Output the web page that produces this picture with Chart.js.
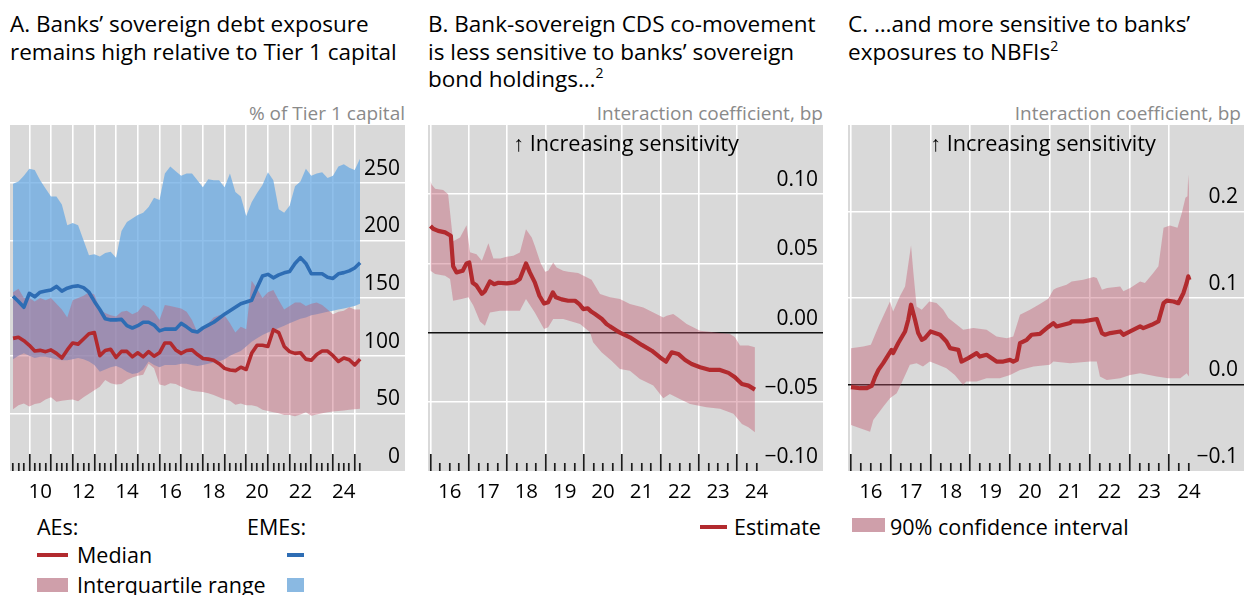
<!DOCTYPE html>
<html>
<head>
<meta charset="utf-8">
<script src="https://cdn.jsdelivr.net/npm/chart.js@4.4.1/dist/chart.umd.min.js"></script>
<style>
  html, body { margin: 0; padding: 0; background: #fff; }
  body { width: 1244px; height: 595px; position: relative; overflow: hidden;
         font-family: "Open Sans", "Noto Sans", sans-serif; color: #000; }
  .title { position: absolute; font-size: 22.5px; line-height: 27.5px; white-space: nowrap; }
  .title sup { font-size: 14px; vertical-align: 9px; line-height: 0; }
  .unit { position: absolute; font-size: 19px; color: #8a8a8a; white-space: nowrap; text-align: right; }
  .note { position: absolute; font-size: 21.7px; white-space: nowrap; transform: translateX(-50%); }
  .panel { position: absolute; top: 125px; height: 386px; }
  .panel canvas { display: block; }
  .leg { position: absolute; font-size: 21.5px; line-height: 24px; white-space: nowrap; }
  .sw { position: absolute; }
</style>
</head>
<body>

<div class="title" style="left:10px; top:10px;">A. Banks’ sovereign debt exposure<br>remains high relative to Tier 1 capital</div>
<div class="title" style="left:428px; top:10px;">B. Bank-sovereign CDS co-movement<br>is less sensitive to banks’ sovereign<br>bond holdings…<sup>2</sup></div>
<div class="title" style="left:848px; top:10px;">C. …and more sensitive to banks’<br>exposures to NBFIs<sup>2</sup></div>

<div class="unit" style="right:839px; top:100px;">% of Tier 1 capital</div>
<div class="unit" style="right:421px; top:100px;">Interaction coefficient, bp</div>
<div class="unit" style="right:3px; top:100px;">Interaction coefficient, bp</div>

<div class="panel" style="left:10px; width:395px;"><canvas id="chartA"></canvas></div>
<div class="panel" style="left:428px; width:395px;"><canvas id="chartB"></canvas></div>
<div class="panel" style="left:848px; width:396px;"><canvas id="chartC"></canvas></div>

<div class="note" style="left:626px; top:128px;">↑ Increasing sensitivity</div>
<div class="note" style="left:1043px; top:128px;">↑ Increasing sensitivity</div>

<!-- legend, panel A -->
<div class="leg" style="left:37px; top:515px;">AEs:</div>
<div class="leg" style="left:247px; top:515px;">EMEs:</div>
<div class="sw" style="left:37px; top:553px; width:31px; height:4px; background:#b22a2e;"></div>
<div class="leg" style="left:77px; top:543px;">Median</div>
<div class="sw" style="left:287px; top:553px; width:17px; height:4px; background:#2e6db4;"></div>
<div class="sw" style="left:37px; top:578px; width:31px; height:14px; background:#cf9faa;"></div>
<div class="leg" style="left:77px; top:573px;">Interquartile range</div>
<div class="sw" style="left:287px; top:578px; width:17px; height:14px; background:#8ab9e2;"></div>

<!-- legend, panels B and C -->
<div class="sw" style="left:700px; top:525px; width:27px; height:4px; background:#b22a2e;"></div>
<div class="leg" style="left:734px; top:515px;">Estimate</div>
<div class="sw" style="left:852px; top:518px; width:33px; height:14px; background:#cf9faa;"></div>
<div class="leg" style="left:890px; top:515px;">90% confidence interval</div>

<script>
// ---------- Panel A: sovereign debt exposure, % of Tier 1 capital (quarterly, from 2009 Q1) ----------
const aFirstQuarter = 2009.25;
const aeMedian = [115,116,113,109,104,104.6,103.5,105,102,98,105,111,110,114.5,119,120,100,104.5,105.5,98.5,
  103.7,103.7,99,102.5,99,103.5,99.5,102.5,111,111,105,102,104.5,105,101,97.5,97,96,93,89,
  87.5,87,90,88,102,109,109,108,122.5,120,108,103.5,102,102.5,97,96,101,104,104,100,
  95,98,96.5,92,97];
const aeLower = [53.5,57,58.5,56,58,59,62,64,60,61,61.5,62,60.5,64,67,70,73,79,76,75,
  75.5,79,81,82.5,83.5,93,89,75,74,76,75.5,73,71,69.5,69,68.5,67.5,66,64,62,
  61,57.5,58.5,57,57,56,53,52,51,50,48.5,48.5,47.5,49,51,48,49,50,51,51.5,
  52,52.5,53,53.5,54];
const aeUpper = [155,158,150,150,147,150,148,150,145,140,133,148,150,152,155,153,140,137,135,134,
  138,139,136,138,144,142,138,131,144,143,142,141,138,131,120,124,128,133,135,135,
  128,120,125,123,165,158,150,155,157,148,140,143,146,146,143,145,146,144,140,136,
  138,139,142,140,140];
const emeMedian = [151.5,147,142,154,151,155,156,157,160,156,158.5,160,160.5,159,155,147,140,132,131,131,
  131.5,126,124,126,129,129,126.5,121.5,123,123,123,128,125,121.5,120.5,124,126.5,129,132.5,136,
  139,142,145,146.5,148,159,169,170.5,167.5,170,171.8,173,180,185,180,171,171,171,168,167,
  171,172,173.5,176,180.5];
const emeLower = [97,100,102,100,98,99,99,98,97,96,96,97,98,97,95,92,86,88,90,91,
  89,86,84,85,88,95,92,90,92,92,92,93,93,92,91,92,93,94,95,97,
  100,102,104,108,112,115,118,120,122,124,126,128,130,132,133,135,136,137,138,139,
  140,141,142,143,145];
const emeUpper = [249,251,256,262,261,252,245,238,238,231,213,215,213,200,187,188,186,189,190,185,
  208,216,219,222,224,229,237,235,258,264,260,256,258,258,252,246,253,252,252,246,
  258,242,238,221,233,241,248,259,252,227,224,230,247,251,262,256,258,259,254,256,
  264,266,263,261,271];

// ---------- Panel B: interaction coefficient with sovereign bond holdings, bp ----------
const bEstDates = [2016.0,2016.07,2016.2,2016.38,2016.53,2016.59,2016.68,2016.84,2016.94,2017.01,
  2017.1,2017.2,2017.34,2017.42,2017.55,2017.66,2017.77,2017.99,2018.2,2018.33,
  2018.49,2018.59,2018.72,2018.84,2018.96,2019.07,2019.19,2019.27,2019.42,2019.59,
  2019.77,2019.88,2019.98,2020.1,2020.2,2020.29,2020.47,2020.59,2020.68,2020.86,
  2020.94,2021.2,2021.51,2021.77,2021.98,2022.14,2022.29,2022.46,2022.64,2022.81,
  2023.03,2023.29,2023.55,2023.77,2023.94,2024.12,2024.29,2024.46];
const bEstimate = [0.077,0.075,0.0735,0.0724,0.070,0.048,0.0435,0.0447,0.050,0.0507,
  0.036,0.034,0.028,0.030,0.037,0.035,0.036,0.0356,0.0363,0.0387,
  0.050,0.0435,0.0363,0.0266,0.021,0.022,0.029,0.0255,0.024,0.023,
  0.023,0.0206,0.017,0.0175,0.015,0.0134,0.0098,0.0062,0.0045,0.0014,
  0.0,-0.0034,-0.0089,-0.0131,-0.0178,-0.021,-0.0142,-0.0154,-0.0198,-0.0227,
  -0.025,-0.027,-0.027,-0.0291,-0.0323,-0.0371,-0.0383,-0.0412];
const bUpperDates = [2016.0,2016.03,2016.12,2016.33,2016.46,2016.59,2016.77,2016.94,2017.03,2017.2,
  2017.34,2017.51,2017.64,2017.82,2017.99,2018.16,2018.33,2018.49,2018.64,2018.72,
  2018.87,2018.99,2019.07,2019.2,2019.29,2019.46,2019.59,2019.85,2020.07,2020.2,
  2020.42,2020.68,2020.94,2021.2,2021.55,2021.81,2022.07,2022.16,2022.33,2022.46,
  2022.68,2023.03,2023.38,2023.81,2023.94,2024.07,2024.29,2024.46];
const bUpper = [0.1096,0.107,0.104,0.103,0.100,0.066,0.0688,0.0776,0.058,0.0567,
  0.0519,0.0646,0.0536,0.0536,0.0548,0.0555,0.0579,0.0747,0.0688,0.0627,
  0.0502,0.0439,0.0447,0.0507,0.0471,0.0447,0.0439,0.043,0.040,0.0382,
  0.0278,0.0255,0.0242,0.0206,0.0182,0.0146,0.011,0.0122,0.0134,0.011,
  0.0062,0.0014,0.0002,-0.001,-0.0034,-0.0094,-0.0094,-0.0106];
const bLowerDates = [2016.0,2016.12,2016.38,2016.51,2016.59,2016.81,2016.99,2017.12,2017.29,2017.42,
  2017.55,2017.81,2018.33,2018.49,2018.72,2018.96,2019.07,2019.2,2019.46,2019.9,
  2020.16,2020.24,2020.46,2020.72,2020.94,2021.2,2021.46,2021.81,2022.07,2022.24,
  2022.5,2022.77,2023.2,2023.55,2023.9,2024.12,2024.29,2024.46];
const bLower = [0.0447,0.0423,0.041,0.0387,0.023,0.0242,0.0255,0.0194,0.008,0.005,
  0.0146,0.0158,0.0158,0.0242,0.0146,0.0026,0.0038,0.0098,0.0098,0.0062,
  0.0002,-0.007,-0.0142,-0.0203,-0.0263,-0.0275,-0.0335,-0.0383,-0.0474,-0.0443,
  -0.048,-0.0515,-0.054,-0.0551,-0.0587,-0.066,-0.0683,-0.072];

// ---------- Panel C: interaction coefficient with exposures to NBFIs, bp ----------
const cEstDates = [2016.0,2016.23,2016.39,2016.52,2016.61,2016.69,2016.81,2016.94,2017.02,2017.06,
  2017.19,2017.36,2017.44,2017.51,2017.61,2017.69,2017.78,2017.86,2018.0,2018.24,
  2018.4,2018.49,2018.7,2018.78,2018.95,2019.16,2019.24,2019.41,2019.66,2019.83,
  2020.0,2020.08,2020.17,2020.25,2020.42,2020.54,2020.75,2020.96,2021.09,2021.17,
  2021.51,2021.55,2021.84,2022.18,2022.31,2022.39,2022.52,2022.77,2022.85,2023.02,
  2023.27,2023.35,2023.56,2023.73,2023.86,2023.94,2024.11,2024.23,2024.36,2024.44,
  2024.48,2024.51];
const cEstimate = [-0.0031,-0.0043,-0.0043,-0.0016,0.0092,0.0169,0.0247,0.0343,0.040,0.0363,
  0.0479,0.0613,0.0749,0.0922,0.0749,0.0594,0.0517,0.0536,0.0613,0.0575,
  0.0497,0.0421,0.040,0.0265,0.0305,0.0363,0.0323,0.0343,0.0265,0.0265,
  0.0285,0.0265,0.0285,0.0479,0.0517,0.0575,0.0585,0.0665,0.071,0.0671,
  0.071,0.0729,0.0729,0.0757,0.0594,0.0575,0.0594,0.0613,0.0575,0.0613,
  0.0671,0.0652,0.069,0.0729,0.094,0.097,0.096,0.094,0.1058,0.1174,
  0.125,0.121];
const cUpperDates = [2016.0,2016.31,2016.5,2016.7,2016.77,2016.98,2017.06,2017.23,2017.36,2017.44,
  2017.51,2017.57,2017.65,2017.78,2017.97,2018.15,2018.32,2018.45,2018.82,2019.08,
  2019.41,2019.66,2019.92,2020.08,2020.25,2020.5,2020.75,2020.96,2021.09,2021.17,
  2021.42,2021.55,2021.84,2022.1,2022.18,2022.31,2022.44,2022.77,2022.85,2023.02,
  2023.27,2023.39,2023.6,2023.73,2023.86,2024.02,2024.21,2024.32,2024.41,2024.46,
  2024.48,2024.51];
const cUpper = [0.042,0.044,0.046,0.068,0.0749,0.096,0.0845,0.1019,0.1134,0.1386,
  0.1606,0.1289,0.0903,0.0864,0.096,0.0942,0.0864,0.0768,0.0633,0.0652,
  0.0633,0.0555,0.0536,0.0555,0.0806,0.0864,0.0932,0.099,0.1096,0.1116,
  0.1154,0.1192,0.1212,0.1243,0.1232,0.1096,0.1116,0.1134,0.1077,0.1116,
  0.1192,0.1174,0.129,0.1366,0.1811,0.1838,0.1811,0.1985,0.2159,0.2177,
  0.2429,0.2177];
const cLowerDates = [2016.0,2016.23,2016.48,2016.56,2016.81,2016.98,2017.15,2017.27,2017.48,2017.65,
  2017.81,2017.98,2018.19,2018.4,2018.61,2018.82,2018.9,2019.16,2019.41,2019.74,
  2020.0,2020.25,2020.59,2021.0,2021.09,2021.51,2022.01,2022.18,2022.26,2022.43,
  2022.77,2023.02,2023.27,2023.69,2023.98,2024.28,2024.44,2024.5];
const cLower = [-0.0468,-0.0506,-0.0546,-0.041,-0.0256,-0.0159,-0.0101,0.0015,0.0227,0.0247,
  0.0207,0.0265,0.0227,0.0189,0.0111,-0.0005,0.0034,0.0034,0.0073,0.0073,
  0.0111,0.0169,0.0207,0.0227,0.0265,0.0247,0.0265,0.0265,0.0092,0.0053,
  0.0073,0.0111,0.0131,0.0092,0.0073,0.0073,0.0131,0.0092];

// ---------- styling ----------
const RED = '#b22a2e', BLUE = '#2e6db4';
const PINK_FILL = 'rgba(192,86,108,0.40)';
const BLUE_FILL = 'rgba(104,168,226,0.74)';
const PLOT_BG = '#d9d9d9';
const FONT = '"Open Sans", "Noto Sans", sans-serif';

Chart.defaults.font.family = FONT;
Chart.defaults.animation = false;

const plotBackground = {
  id: 'plotBackground',
  beforeDraw(chart) {
    const { ctx, chartArea: a } = chart;
    ctx.save();
    ctx.fillStyle = PLOT_BG;
    ctx.fillRect(a.left, a.top, a.right - a.left, a.bottom - a.top);
    ctx.restore();
  }
};

const near = (a, b) => Math.abs(a - b) < 1e-7;
const isYear = v => near(v, Math.round(v));
const minus = s => s.replace('-', '\u2212');

function pairs(xs, ys) { return xs.map((x, i) => ({ x, y: ys[i] })); }
function quarterly(start, ys) { return ys.map((y, i) => ({ x: start + i * 0.25, y })); }

// the plot fills the whole canvas apart from the strip for the year labels
function noScalePadding(scale) {
  scale.paddingLeft = 0; scale.paddingRight = 0;
  scale.paddingTop = 0; scale.paddingBottom = 0;
}

// x axis: year boundaries get a grid line and a long tick, quarters a short tick,
// year labels sit in the middle of each year
function timeAxis(min, max, firstTick, lastTick, showYear) {
  return {
    type: 'linear', position: 'bottom', min, max,
    afterBuildTicks(scale) {
      const t = [];
      for (let q = Math.round(firstTick * 4); q <= Math.round(lastTick * 4); q++) t.push({ value: q / 4 });
      scale.ticks = t;
    },
    afterFit(scale) { scale.height = 40; noScalePadding(scale); },
    border: { display: false },
    grid: {
      color: c => isYear(c.tick.value) ? '#ffffff' : 'rgba(0,0,0,0)',
      lineWidth: 1.6,
      drawTicks: true,
      tickLength: -17,
      tickColor: '#1c1c1c',
      tickWidth: 1.7,
      tickBorderDash: c => isYear(c.tick.value) ? [] : [8, 60]
    },
    ticks: {
      autoSkip: false, maxRotation: 0, minRotation: 0, padding: 26,
      color: '#000', font: { size: 20.5, family: FONT },
      callback(v) {
        const y = Math.floor(v + 1e-7);
        if (!near(v - y, 0.5) || !showYear(y)) return '';
        return String(y % 100).padStart(2, '0');
      }
    }
  };
}

// y axis: labels drawn inside the plot on the right, just above their grid line
function valueAxis(min, max, step, fmt, zeroLine, labelInset) {
  return {
    type: 'linear', position: 'right', min, max,
    afterFit(scale) { scale.width = 0; noScalePadding(scale); },
    border: { display: false },
    grid: {
      drawTicks: false,
      lineWidth: 1.6,
      color: c => {
        const v = c.tick.value;
        if (near(v, min) || near(v, max)) return 'rgba(0,0,0,0)';
        if (zeroLine && near(v, 0)) return '#111111';
        return '#ffffff';
      }
    },
    ticks: {
      stepSize: step, mirror: true, padding: -labelInset, labelOffset: -14,
      color: '#000', font: { size: 21, family: FONT },
      callback: v => near(v, max) ? '' : minus(fmt(v))
    }
  };
}

function band(data, color, order, fill) {
  return { data, borderWidth: 0, borderColor: 'rgba(0,0,0,0)', backgroundColor: color,
           pointRadius: 0, fill, order, tension: 0 };
}
function line(data, color, width, order) {
  return { data, borderColor: color, borderWidth: width, pointRadius: 0, fill: false,
           order, tension: 0, borderJoinStyle: 'round', borderCapStyle: 'butt' };
}

const baseOptions = (scales) => ({
  responsive: false,
  maintainAspectRatio: false,
  animation: false,
  layout: { padding: 0, autoPadding: false },
  plugins: { legend: { display: false }, tooltip: { enabled: false }, title: { display: false } },
  scales
});

function makeCanvas(id, w, h) {
  const c = document.getElementById(id);
  c.width = w; c.height = h;
  c.style.width = w + 'px'; c.style.height = h + 'px';
  return c;
}

// Panel A
new Chart(makeCanvas('chartA', 395, 386), {
  type: 'line',
  data: { datasets: [
    band(quarterly(aFirstQuarter, emeLower), 'rgba(0,0,0,0)', 5, false),
    band(quarterly(aFirstQuarter, emeUpper), BLUE_FILL, 4, '-1'),
    band(quarterly(aFirstQuarter, aeLower), 'rgba(0,0,0,0)', 3, false),
    band(quarterly(aFirstQuarter, aeUpper), PINK_FILL, 2, '-1'),
    line(quarterly(aFirstQuarter, emeMedian), BLUE, 3.6, 1),
    line(quarterly(aFirstQuarter, aeMedian), RED, 3.6, 0)
  ]},
  options: baseOptions({
    x: timeAxis(2009.11, 2027.32, 2009.25, 2025.25, y => y % 2 === 0),
    y: valueAxis(0, 300, 50, v => String(Math.round(v)), false, 5)
  }),
  plugins: [plotBackground]
});

// Panel B
new Chart(makeCanvas('chartB', 395, 386), {
  type: 'line',
  data: { datasets: [
    band(pairs(bLowerDates, bLower), 'rgba(0,0,0,0)', 3, false),
    band(pairs(bUpperDates, bUpper), PINK_FILL, 2, '-1'),
    line(pairs(bEstDates, bEstimate), RED, 4.2, 0)
  ]},
  options: baseOptions({
    x: timeAxis(2015.935, 2026.235, 2016.0, 2024.5, () => true),
    y: valueAxis(-0.1, 0.15, 0.05, v => v.toFixed(2), true, 5)
  }),
  plugins: [plotBackground]
});

// Panel C
new Chart(makeCanvas('chartC', 396, 386), {
  type: 'line',
  data: { datasets: [
    band(pairs(cLowerDates, cLower), 'rgba(0,0,0,0)', 3, false),
    band(pairs(cUpperDates, cUpper), PINK_FILL, 2, '-1'),
    line(pairs(cEstDates, cEstimate), RED, 4.2, 0)
  ]},
  options: baseOptions({
    x: timeAxis(2015.925, 2025.882, 2016.0, 2024.5, () => true),
    y: valueAxis(-0.1, 0.3, 0.1, v => v.toFixed(1), true, 6)
  }),
  plugins: [plotBackground]
});
</script>
</body>
</html>
